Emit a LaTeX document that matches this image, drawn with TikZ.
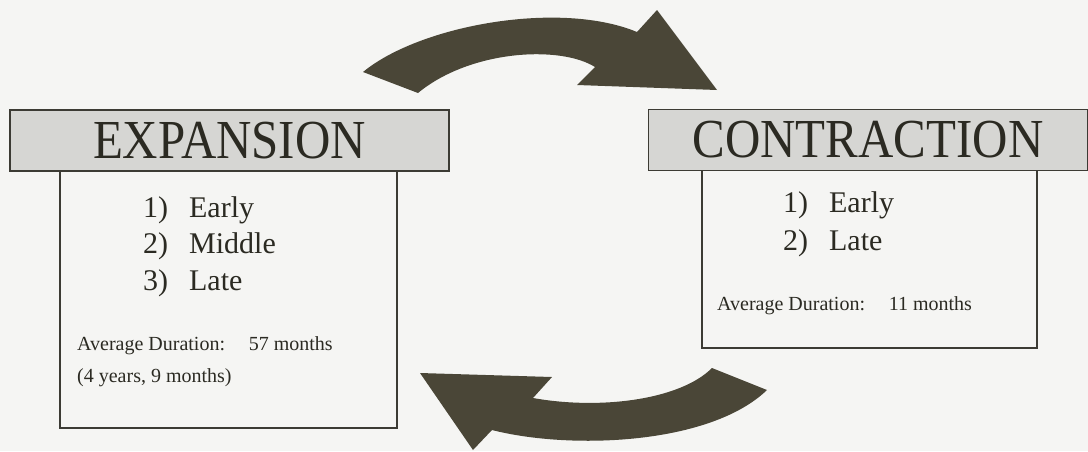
\documentclass[tikz,border=0pt]{standalone}
\usepackage{fontspec}
\setmainfont{Liberation Serif}
\usepackage{graphicx}
\usepackage{tikz}
\usetikzlibrary{positioning}
\definecolor{paper}{HTML}{F5F5F3}
\definecolor{band}{HTML}{D6D6D3}
\definecolor{frame}{HTML}{3C3B34}
\definecolor{ink}{HTML}{2B2A22}
\definecolor{arrowfill}{HTML}{4A4637}
\tikzset{
  headband/.style={
    minimum width=439pt,
    minimum height=61pt,
    inner sep=0pt,
    align=center,
    draw=frame,
    line width=1.6pt,
    fill=band,
    text=ink,
    font=\fontsize{55}{55}\selectfont
  },
  stagebox/.style={
    inner sep=0pt,
    draw=frame,
    line width=1.5pt,
    fill=paper
  },
  stageitem/.style={
    anchor=base west,
    inner sep=0pt,
    text=ink,
    font=\fontsize{30}{36}\selectfont
  },
  durationtext/.style={
    anchor=base west,
    inner sep=0pt,
    text=ink,
    font=\fontsize{20}{24}\selectfont
  },
  cyclearrow/.style={fill=arrowfill, draw=none}
}

\begin{document}
\begin{tikzpicture}[x=1pt, y=-1pt]
      \useasboundingbox (0,0) rectangle (1088,451);
      \fill[paper] (0,0) rectangle (1088,451);
      % expansion
      \node (expBox) [stagebox, minimum width=337pt, minimum height=258pt] at (228.5,299) {};
      \node (expHead) [headband] at (229.5,140.5) {\scalebox{0.89}[1]{EXPANSION}};
      \node (expEarly) [stageitem] at (143,217) {1)\hspace{0.45em} Early};
      \node (expMiddle) [stageitem] at (143,253) {2)\hspace{0.45em} Middle};
      \node (expLate) [stageitem] at (143,290) {3)\hspace{0.45em} Late};
      \node (expAvg) [durationtext] at (77,350) {Average Duration:\hspace{0.85em} 57 months};
      \node (expYears) [durationtext] at (77,382) {(4 years, 9 months)};
      % contraction
      \node (conBox) [stagebox, minimum width=335pt, minimum height=178pt] at (869.5,259) {};
      \node (conHead) [headband] at (868,140) {\scalebox{0.89}[1]{CONTRACTION}};
      \node (conEarly) [stageitem] at (783,212) {1)\hspace{0.45em} Early};
      \node (conLate) [stageitem] at (783,250) {2)\hspace{0.45em} Late};
      \node (conAvg) [durationtext] at (717,310) {Average Duration:\hspace{0.85em} 11 months};
      % the two curved arrows
      \fill[cyclearrow] (363,72) .. controls (420,25) and (560,0) .. (637,32)
        -- (657,10) -- (717,90) -- (577,85) -- (595,67)
        .. controls (560,45) and (470,50) .. (418,93) -- cycle;
      \fill[cyclearrow] (712,368) .. controls (680,400) and (600,410) .. (533,398)
        -- (552,377) -- (420,373) -- (473,450) -- (492,430)
        .. controls (570,450) and (710,445) .. (767,390) -- cycle;
  \end{tikzpicture}
\end{document}
